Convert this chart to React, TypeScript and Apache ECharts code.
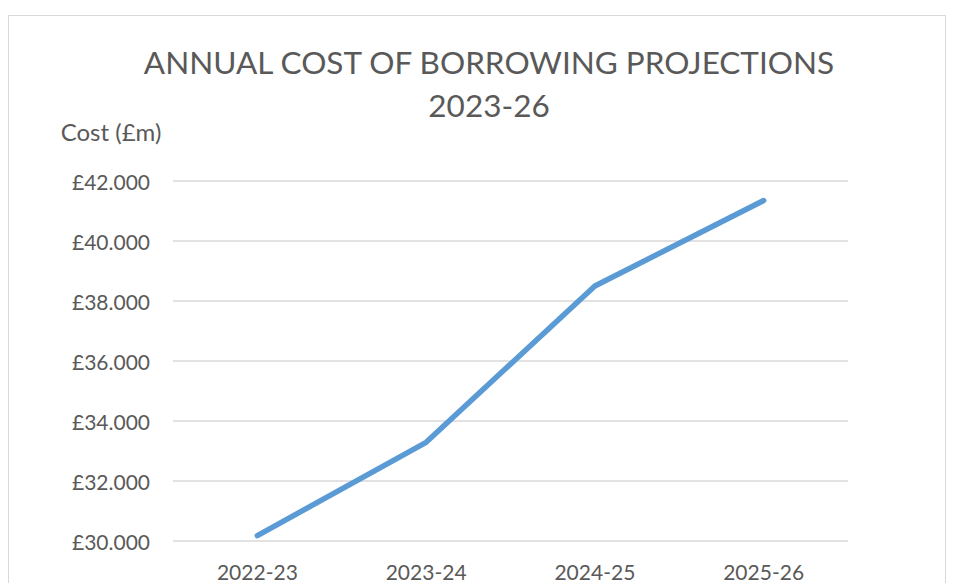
import React, { useEffect, useRef } from "react";
import * as echarts from "echarts";

const categories = ["2022-23", "2023-24", "2024-25", "2025-26"];
const costValues = [30.18, 33.29, 38.5, 41.35];
const yMin = 30;
const yMax = 42;
const yStep = 2;

const FONT = "Lato, 'Open Sans', sans-serif";
const TEXT = "#595959";

export default function App() {
  const ref = useRef<HTMLDivElement>(null);
  useEffect(() => {
    document.body.style.margin = "0";
    const chart = echarts.init(ref.current!, undefined, { renderer: "svg" });
    chart.setOption({
      animation: false,
      backgroundColor: "#ffffff",
      title: {
        text: "ANNUAL COST OF BORROWING PROJECTIONS\n2023-26",
        left: 484,
        top: 35,
        textAlign: "center",
        textStyle: {
          fontFamily: FONT,
          fontSize: 31.5,
          fontWeight: "normal",
          color: TEXT,
          lineHeight: 43,
        },
      },
      graphic: [
        {
          type: "rect",
          shape: { x: 8.5, y: 15.5, width: 937, height: 700 },
          style: { fill: "none", stroke: "#d9d9d9", lineWidth: 1 },
          silent: true,
        },
        {
          type: "text",
          x: 111,
          y: 131,
          style: {
            text: "Cost (£m)",
            fontFamily: FONT,
            fontSize: 24,
            fill: TEXT,
            align: "center",
            verticalAlign: "middle",
          },
        },
      ],
      grid: { left: 173, right: 107, top: 181, bottom: 42, containLabel: false },
      xAxis: {
        type: "category",
        data: categories,
        boundaryGap: true,
        axisLine: { show: false },
        axisTick: { show: false },
        axisLabel: {
          fontFamily: FONT,
          fontSize: 21,
          color: TEXT,
          margin: 20,
        },
      },
      yAxis: {
        type: "value",
        min: yMin,
        max: yMax,
        interval: yStep,
        axisLine: { show: false },
        axisTick: { show: false },
        splitLine: { lineStyle: { color: "#d9d9d9", width: 1.5 } },
        axisLabel: {
          fontFamily: FONT,
          fontSize: 21,
          color: TEXT,
          margin: 23,
          formatter: (v: number) => "£" + v.toFixed(3),
        },
      },
      series: [
        {
          type: "line",
          data: costValues,
          showSymbol: false,
          symbol: "none",
          lineStyle: { color: "#5b9bd5", width: 5.5, cap: "round", join: "round" },
        },
      ],
    });
    return () => chart.dispose();
  }, []);
  return (
    <div
      ref={ref}
      style={{ position: "fixed", left: 0, top: 0, width: 955, height: 583 }}
    />
  );
}
